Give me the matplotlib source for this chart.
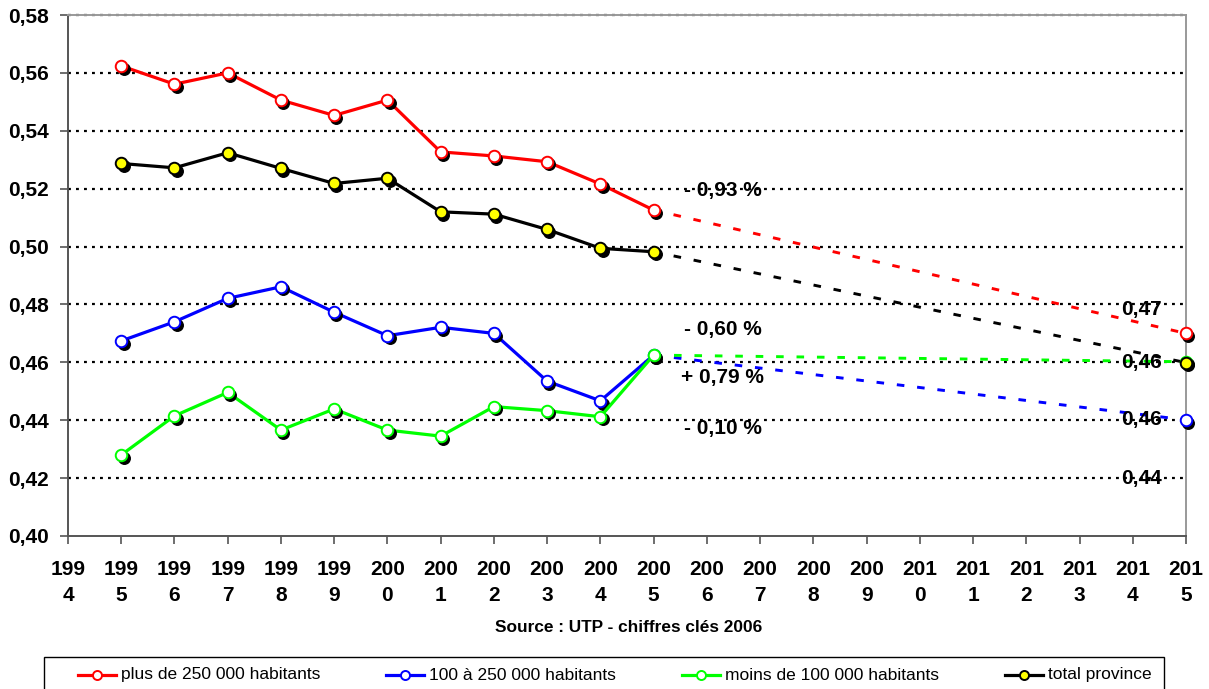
import matplotlib
matplotlib.use("Agg")
import matplotlib.pyplot as plt
import matplotlib.transforms as mtransforms
from matplotlib.lines import Line2D
from matplotlib.patches import Rectangle

plt.rcParams['font.family'] = ['Liberation Sans', 'DejaVu Sans']

years = list(range(1994, 2016))
hist_years = list(range(1995, 2006))

red_vals = [0.5624, 0.5561, 0.5600, 0.5506, 0.5453, 0.5506, 0.5327, 0.5313, 0.5293, 0.5216, 0.5126]
blue_vals = [0.4674, 0.4740, 0.4821, 0.4861, 0.4773, 0.4692, 0.4721, 0.4700, 0.4535, 0.4467, 0.4625]
green_vals = [0.4280, 0.4415, 0.4496, 0.4366, 0.4439, 0.4366, 0.4345, 0.4447, 0.4433, 0.4412, 0.4625]
black_vals = [0.5287, 0.5272, 0.5324, 0.5270, 0.5218, 0.5236, 0.5120, 0.5112, 0.5059, 0.4994, 0.4982]

proj_years = [2005, 2015]
red_proj = [0.5126, 0.4700]
blue_proj = [0.4625, 0.4401]
green_proj = [0.4625, 0.4602]
black_proj = [0.4982, 0.4599]

series_names = ["plus de 250 000 habitants", "100 à 250 000 habitants",
                "moins de 100 000 habitants", "total province"]
line_colors = ["#ff0000", "#0000ff", "#00ff00", "#000000"]
face_colors = ["white", "white", "white", "#ffff00"]

rate_labels = ["- 0,93 %", "- 0,60 %", "+ 0,79 %", "- 0,10 %"]
rate_pos_y = [0.5192, 0.4712, 0.4549, 0.4373]
rate_pos_x = [2005.58, 2005.58, 2005.52, 2005.58]
end_labels = ["0,47", "0,46", "0,46", "0,44"]
end_pos_y = [0.4781, 0.4598, 0.4401, 0.4200]

yticks = [0.40, 0.42, 0.44, 0.46, 0.48, 0.50, 0.52, 0.54, 0.56, 0.58]
ytick_labels = ["0,40", "0,42", "0,44", "0,46", "0,48", "0,50", "0,52", "0,54", "0,56", "0,58"]
xtick_labels = [f"{str(y)[:3]}\n{str(y)[3]}" for y in years]

W, H = 1209, 689
fig = plt.figure(figsize=(W/100, H/100), dpi=100)
ax = fig.add_axes([68/W, 1-536/H, (1186-68)/W, (536-15)/H])

ax.set_xlim(1994, 2015)
ax.set_ylim(0.40, 0.58)

for yv in yticks[1:]:
    ax.axhline(yv, color="black", lw=1.6, dashes=(1.3, 2.3), zorder=1, clip_on=False)

shadow = mtransforms.offset_copy(ax.transData, fig=fig, x=2.3, y=-2.7, units='dots')

hist = [red_vals, blue_vals, green_vals, black_vals]
proj = [red_proj, blue_proj, green_proj, black_proj]
for i in range(4):
    c = line_colors[i]
    z = 2 + i * 0.1
    ax.plot(proj_years, proj[i], color=c, lw=2.1, dashes=(2.6, 4.4), zorder=z)
for i in range(4):
    c = line_colors[i]
    z = 3 + i * 0.5
    xs = hist_years + [proj_years[1]]
    ys = hist[i] + [proj[i][1]]
    ax.plot(hist_years, hist[i], color=c, lw=2.3, zorder=z, solid_capstyle='round')
    ax.plot(xs, ys, ls='none', marker='o', ms=8.3, mfc='black', mec='black',
            transform=shadow, zorder=z + 0.1, clip_on=False)
    ax.plot(xs, ys, ls='none', marker='o', ms=8.3, mfc=face_colors[i], mec=c,
            mew=1.4, zorder=z + 0.2, clip_on=False)

for lab, xv, yv in zip(rate_labels, rate_pos_x, rate_pos_y):
    ax.text(xv, yv, lab, fontsize=15, fontweight='bold', ha='left', va='center', zorder=6)
for lab, yv in zip(end_labels, end_pos_y):
    ax.text(2014.55, yv, lab, fontsize=15, fontweight='bold', ha='right', va='center', zorder=6)

ax.set_yticks(yticks)
ax.set_yticklabels(ytick_labels, fontsize=15, fontweight='bold')
ax.set_xticks(years)
ax.set_xticklabels(xtick_labels, fontsize=15, fontweight='bold', linespacing=1.5)
ax.tick_params(axis='y', length=6, width=1.2, color='#555555', pad=8)
ax.tick_params(axis='x', length=6, width=1.2, color='#555555', pad=11)

for s in ['left', 'bottom']:
    ax.spines[s].set_color('#555555')
    ax.spines[s].set_linewidth(1.4)
for s in ['top', 'right']:
    ax.spines[s].set_color('#999999')
    ax.spines[s].set_linewidth(1.4)

fig.text(629/W, 1-628/H, "Source : UTP - chiffres clés 2006", fontsize=12.4,
         fontweight='bold', ha='center', va='center')

# legend box (drawn manually so entries sit at the same places as in the original)
fig.add_artist(Rectangle((44/W, -0.05), (1164-44)/W, 1-657/H + 0.05, transform=fig.transFigure,
                         facecolor='white', edgecolor='black', lw=1.0))
entry_x = [78, 386, 682, 1005]
ly = 1-675/H
for i in range(4):
    x0 = entry_x[i]
    fig.add_artist(Line2D([x0/W, (x0+38)/W], [ly, ly], transform=fig.transFigure,
                          color=line_colors[i], lw=2.3))
    fig.add_artist(Line2D([(x0+19)/W], [ly], transform=fig.transFigure, ls='none',
                          marker='o', ms=6.5, mfc=face_colors[i], mec=line_colors[i], mew=1.4))
    fig.text((x0+43)/W, ly, series_names[i], fontsize=12.5, ha='left', va='center')

fig.savefig("out.png", dpi=100)
